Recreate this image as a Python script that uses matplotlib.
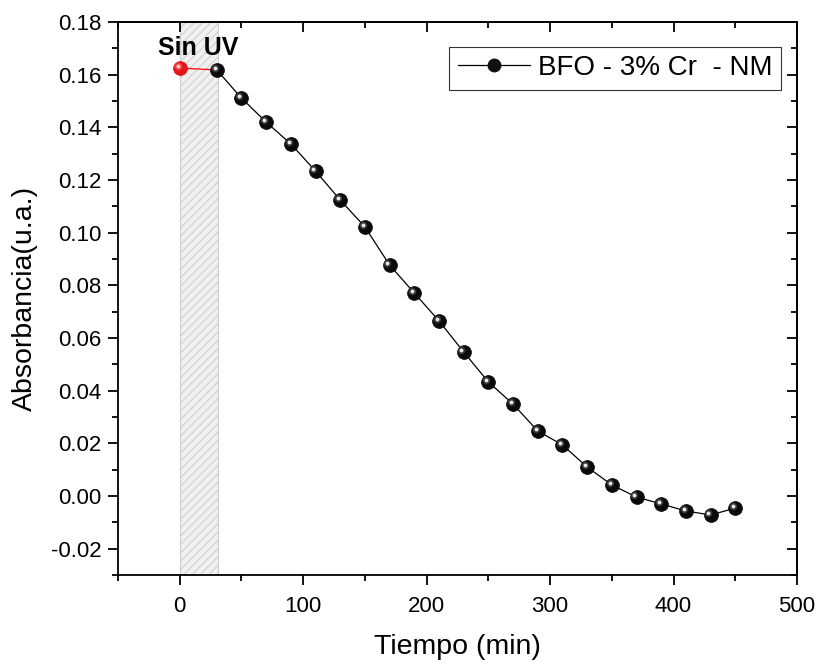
import matplotlib
matplotlib.use("Agg")
import matplotlib.pyplot as plt
from matplotlib.ticker import MultipleLocator
from matplotlib.lines import Line2D
from matplotlib import transforms

plt.rcParams['font.family'] = ['Liberation Sans', 'DejaVu Sans']
plt.rcParams['hatch.color'] = '#bdbdbd'
plt.rcParams['hatch.linewidth'] = 0.7

tiempo = [0, 30, 50, 70, 90, 110, 130, 150, 170, 190, 210, 230, 250, 270,
          290, 310, 330, 350, 370, 390, 410, 430, 450]
absorbancia = [0.1625, 0.1618, 0.1511, 0.1420, 0.1337, 0.1234, 0.1124, 0.1022,
               0.0877, 0.0771, 0.0665, 0.0547, 0.0433, 0.0349, 0.0247, 0.0194,
               0.0110, 0.0042, -0.0004, -0.0030, -0.0057, -0.0072, -0.0046]
serie = "BFO - 3% Cr  - NM"
sin_uv = "Sin UV"
region_x = [0, 31]

fig = plt.figure(figsize=(8.29, 6.64), dpi=100)
ax = fig.add_axes([118/829, 1-575/664, (797-118)/829, (575-22)/664])

ax.set_xlim(-50, 500)
ax.set_ylim(-0.03, 0.18)

ax.axvspan(region_x[0], region_x[1], facecolor='#f0f0f0', edgecolor='#cccccc',
           hatch='////', linewidth=0.8, zorder=0)

ax.plot(tiempo[:2], absorbancia[:2], color='red', lw=0.9, zorder=2)
ax.plot(tiempo[1:], absorbancia[1:], color='black', lw=0.9, zorder=2)

hl_tr = transforms.offset_copy(ax.transData, fig=fig, x=-1.6, y=1.6, units='points')

def spheres(x, y, base, mid, hl):
    ax.plot(x, y, 'o', ms=10, color=base, mec=base, mew=0.5, zorder=3)
    ax.plot(x, y, 'o', ms=5.5, color=mid, mew=0, alpha=0.6, zorder=4, transform=hl_tr)
    ax.plot(x, y, 'o', ms=2.8, color=hl, mew=0, zorder=5, transform=hl_tr)

spheres(tiempo[:1], absorbancia[:1], '#e3151b', '#f06060', '#ffd0d0')
spheres(tiempo[1:], absorbancia[1:], '#0a0a0a', '#555555', '#e8e8e8')

ax.text(-17.6, 0.1673, sin_uv, fontsize=18, fontweight='bold', ha='left', va='baseline')

handle = Line2D([], [], color='black', lw=0.9, marker='o', ms=9,
                mfc='#111111', mec='#111111')
leg = ax.legend([handle], [serie], loc='upper right', bbox_to_anchor=(0.9765, 0.955),
                fontsize=20, frameon=True, fancybox=False, edgecolor='black',
                handlelength=2.6, handletextpad=0.3, borderpad=0.3,
                borderaxespad=0)
leg.get_frame().set_linewidth(0.8)

ax.xaxis.set_major_locator(MultipleLocator(100))
ax.xaxis.set_minor_locator(MultipleLocator(50))
ax.yaxis.set_major_locator(MultipleLocator(0.02))
ax.yaxis.set_minor_locator(MultipleLocator(0.01))
ax.yaxis.set_major_formatter(plt.FuncFormatter(lambda v, p: f"{v:.2f}"))

ax.tick_params(which='both', direction='out', width=1.3, labelsize=16,
               top=False, right=False)
ax.tick_params(which='major', length=7)
ax.tick_params(which='minor', length=4)
ax.tick_params(axis='x', pad=8)
ax.tick_params(axis='y', pad=5)

secx = ax.secondary_xaxis('top')
secx.xaxis.set_major_locator(MultipleLocator(100))
secx.xaxis.set_minor_locator(MultipleLocator(50))
secx.tick_params(which='both', direction='in', width=1.3, labeltop=False)
secx.tick_params(which='major', length=7)
secx.tick_params(which='minor', length=4)
secy = ax.secondary_yaxis('right')
secy.yaxis.set_major_locator(MultipleLocator(0.02))
secy.yaxis.set_minor_locator(MultipleLocator(0.01))
secy.tick_params(which='both', direction='in', width=1.3, labelright=False)
secy.tick_params(which='major', length=7)
secy.tick_params(which='minor', length=4)
for s in list(ax.spines.values()) + list(secx.spines.values()) + list(secy.spines.values()):
    s.set_linewidth(1.3)

ax.set_xlabel("Tiempo (min)", fontsize=20.5, labelpad=12)
ax.set_ylabel("Absorbancia(u.a.)", fontsize=20.5, labelpad=9)

fig.savefig("out.png", dpi=100)
